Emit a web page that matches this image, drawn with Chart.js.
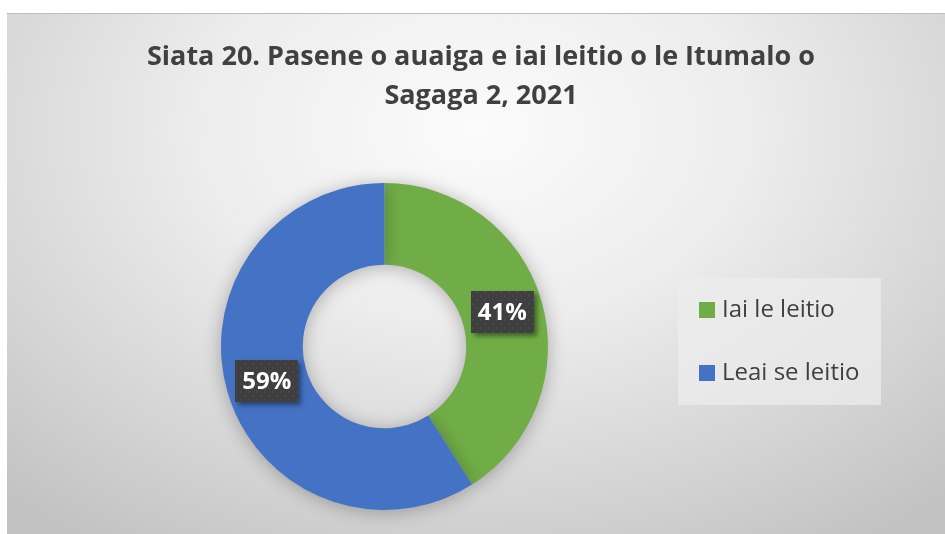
<!DOCTYPE html>
<html>
<head>
<meta charset="utf-8">
<script src="https://cdn.jsdelivr.net/npm/chart.js@4/dist/chart.umd.min.js"></script>
<style>
  html, body { margin: 0; padding: 0; background: #ffffff; width: 945px; height: 534px; overflow: hidden; }
  #frame {
    position: absolute; left: 7px; top: 13px; width: 938px; height: 521px;
    border-top: 1px solid #bdbdbd; box-sizing: border-box;
    background: radial-gradient(ellipse 75% 95% at 50% 22%, #fbfbfb 0%, #ececec 40%, #d4d4d4 75%, #c2c2c2 100%);
  }
  canvas { display: block; }
</style>
</head>
<body>
<div id="frame"><canvas id="c" width="938" height="520"></canvas></div>
<script>
const titleLines = ["Siata 20. Pasene o auaiga e iai leitio o le Itumalo o", "Sagaga 2, 2021"];
const categories = ["Iai le leitio", "Leai se leitio"];
const values = [41, 59];
const colors = ["#70AD47", "#4472C4"];

// dotted dark pattern for data labels
function makePattern(ctx) {
  const p = document.createElement('canvas');
  p.width = 8; p.height = 8;
  const pc = p.getContext('2d');
  pc.fillStyle = '#3f3f3f'; pc.fillRect(0, 0, 8, 8);
  pc.fillStyle = '#4b4b4b';
  pc.beginPath(); pc.arc(2, 2, 1.1, 0, Math.PI * 2); pc.fill();
  pc.beginPath(); pc.arc(6, 6, 1.1, 0, Math.PI * 2); pc.fill();
  return ctx.createPattern(p, 'repeat');
}

const shadowPlugin = {
  id: 'arcShadow',
  beforeDatasetsDraw(chart) {
    const ctx = chart.ctx;
    ctx.save();
    ctx.shadowColor = 'rgba(0,0,0,0.28)';
    ctx.shadowBlur = 18;
    ctx.shadowOffsetX = 0;
    ctx.shadowOffsetY = 2;
  },
  afterDatasetsDraw(chart) {
    chart.ctx.restore();
  }
};

const decorPlugin = {
  id: 'decor',
  afterDraw(chart) {
    const ctx = chart.ctx;
    // Title
    ctx.save();
    ctx.fillStyle = '#404040';
    ctx.font = 'bold 27px "Open Sans", Lato, sans-serif';
    ctx.textAlign = 'center';
    ctx.textBaseline = 'middle';
    const tx = 474;
    titleLines.forEach((ln, i) => {
      ctx.fillText(ln, tx, 43 + i * 39);
    });
    ctx.restore();

    // Data labels
    const meta = chart.getDatasetMeta(0);
    const pat = makePattern(ctx);
    meta.data.forEach((arc, i) => {
      const pos = arc.tooltipPosition();
      const bw = 63, bh = 42;
      const x = Math.round(pos.x - bw / 2), y = Math.round(pos.y - bh / 2);
      ctx.save();
      ctx.shadowColor = 'rgba(0,0,0,0.45)';
      ctx.shadowBlur = 5;
      ctx.shadowOffsetX = 3;
      ctx.shadowOffsetY = 3;
      ctx.fillStyle = pat;
      ctx.fillRect(x, y, bw, bh);
      ctx.restore();
      ctx.save();
      ctx.fillStyle = '#ffffff';
      ctx.font = 'bold 24px "Open Sans", Lato, sans-serif';
      ctx.textAlign = 'center';
      ctx.textBaseline = 'middle';
      ctx.fillText(values[i] + '%', pos.x, pos.y + 1);
      ctx.restore();
    });

    // Legend
    ctx.save();
    ctx.fillStyle = 'rgba(236,236,236,0.75)';
    ctx.fillRect(671, 264, 203, 127);
    ctx.font = '24px "Open Sans", Lato, sans-serif';
    ctx.textBaseline = 'middle';
    ctx.textAlign = 'left';
    categories.forEach((c, i) => {
      const yy = 288 + i * 63;
      ctx.fillStyle = colors[i];
      ctx.fillRect(692, yy, 16, 16);
      ctx.fillStyle = '#404040';
      ctx.fillText(c, 715, yy + 8);
    });
    ctx.restore();
  }
};

new Chart(document.getElementById('c'), {
  type: 'doughnut',
  data: {
    labels: categories,
    datasets: [{
      data: values,
      backgroundColor: colors,
      borderWidth: 0,
      hoverOffset: 0
    }]
  },
  options: {
    responsive: false,
    animation: false,
    cutout: '50%',
    rotation: 0,
    layout: { padding: { left: 214, right: 397, top: 169, bottom: 24 } },
    plugins: {
      legend: { display: false },
      title: { display: false },
      tooltip: { enabled: false }
    }
  },
  plugins: [shadowPlugin, decorPlugin]
});
</script>
</body>
</html>
